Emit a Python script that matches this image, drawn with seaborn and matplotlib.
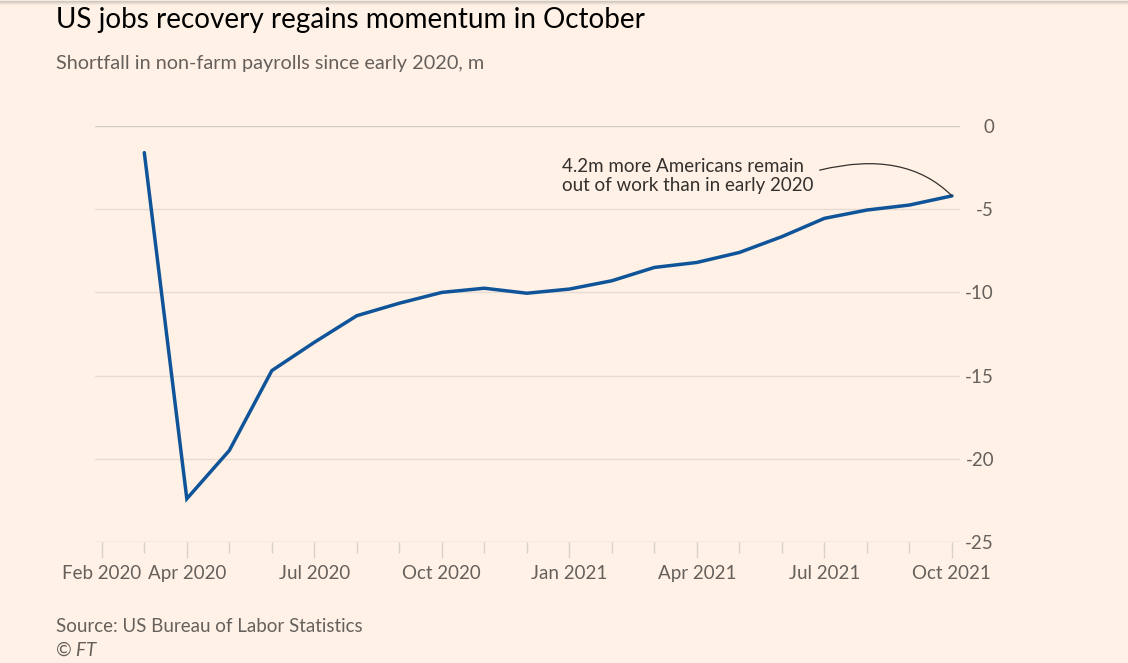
import matplotlib
matplotlib.use("Agg")
import matplotlib.pyplot as plt
import seaborn as sns
import pandas as pd
from matplotlib.ticker import FixedLocator, NullFormatter

months = ["Feb 2020", "Mar 2020", "Apr 2020", "May 2020", "Jun 2020", "Jul 2020",
          "Aug 2020", "Sep 2020", "Oct 2020", "Nov 2020", "Dec 2020", "Jan 2021",
          "Feb 2021", "Mar 2021", "Apr 2021", "May 2021", "Jun 2021", "Jul 2021",
          "Aug 2021", "Sep 2021", "Oct 2021"]
# shortfall (m) from Mar 2020 to Oct 2021
data_months = months[1:]
shortfall = [-1.6, -22.4, -19.5, -14.7, -13.0, -11.4, -10.65, -10.0, -9.75, -10.05,
             -9.8, -9.3, -8.5, -8.2, -7.6, -6.65, -5.55, -5.05, -4.75, -4.2]
labelled_ticks = ["Feb 2020", "Apr 2020", "Jul 2020", "Oct 2020", "Jan 2021",
                  "Apr 2021", "Jul 2021", "Oct 2021"]
y_ticks = [0, -5, -10, -15, -20, -25]

BG = "#FFF1E5"
BLUE = "#0F5499"
GREY = "#66605C"
GRID = "#E6DCD3"

sns.set_theme(style="white")
plt.rcParams["font.family"] = ["Lato", "DejaVu Sans"]

df = pd.DataFrame({"idx": [months.index(m) for m in data_months], "value": shortfall})

fig = plt.figure(figsize=(11.28, 6.63), dpi=100, facecolor=BG)
ax = fig.add_axes([95 / 1128, 1 - 542 / 663, (960 - 95) / 1128, (542 - 126) / 663])
ax.set_facecolor(BG)

sns.lineplot(data=df, x="idx", y="value", ax=ax, color=BLUE, linewidth=2.5,
             solid_joinstyle="miter")

ax.set_xlim(-0.16, 20.19)
ax.set_ylim(-25, 0)

# gridlines
for v in y_ticks:
    ax.axhline(v, color="#D3CCC6" if v in (0, -25) else GRID, lw=1.0, zorder=0)

for s in ax.spines.values():
    s.set_visible(False)

# x ticks
major = [months.index(m) for m in labelled_ticks]
minor = [i for i in range(len(months)) if i not in major]
ax.xaxis.set_major_locator(FixedLocator(major))
ax.set_xticklabels(labelled_ticks)
ax.xaxis.set_minor_locator(FixedLocator(minor))
ax.xaxis.set_minor_formatter(NullFormatter())
ax.tick_params(axis="x", which="major", length=11.5, width=1.0, color="#D9D1CA",
               labelsize=13.5, labelcolor=GREY, pad=5, bottom=True)
ax.tick_params(axis="x", which="minor", length=8, width=1.0, color="#D9D1CA", bottom=True)

# y ticks on right, right aligned
ax.yaxis.tick_right()
ax.set_yticks(y_ticks)
ax.set_yticklabels([str(v) for v in y_ticks])
ax.tick_params(axis="y", length=0, pad=24.5, labelsize=13.5, labelcolor=GREY)
for lab in ax.get_yticklabels():
    lab.set_horizontalalignment("right")

ax.set_xlabel("")
ax.set_ylabel("")

# annotation
ax.annotate("4.2m more Americans remain\nout of work than in early 2020",
            xy=(20, shortfall[-1]), xytext=(10.83, -3.0),
            ha="left", va="center", ma="left", fontsize=13.5, color="#33302E",
            linespacing=1.1,
            arrowprops=dict(arrowstyle="-", color="#33302E", lw=0.9,
                            connectionstyle="angle3,angleA=15,angleB=135",
                            shrinkA=2, shrinkB=0, relpos=(1.0, 0.62)))

# titles
fig.text(56 / 1128, 1 - 20 / 663, "US jobs recovery regains momentum in October",
         fontsize=20.1, color="#000000", ha="left", va="center")
fig.text(56 / 1128, 1 - 63 / 663, "Shortfall in non-farm payrolls since early 2020, m",
         fontsize=14.3, color=GREY, ha="left", va="center")

# source
fig.text(56 / 1128, 1 - 626 / 663, "Source: US Bureau of Labor Statistics",
         fontsize=13.5, color=GREY, ha="left", va="center")
fig.text(56 / 1128, 1 - 650 / 663, "© FT", fontsize=13.5, color=GREY,
         ha="left", va="center", style="italic")

# top shadow
for i, a in enumerate([0.35, 0.22, 0.12, 0.06]):
    fig.add_artist(plt.Line2D([0, 1], [1 - (i + 0.5) / 663] * 2, transform=fig.transFigure,
                              color="#888888", alpha=a, lw=1))

fig.savefig("out.png", dpi=100, facecolor=BG)
